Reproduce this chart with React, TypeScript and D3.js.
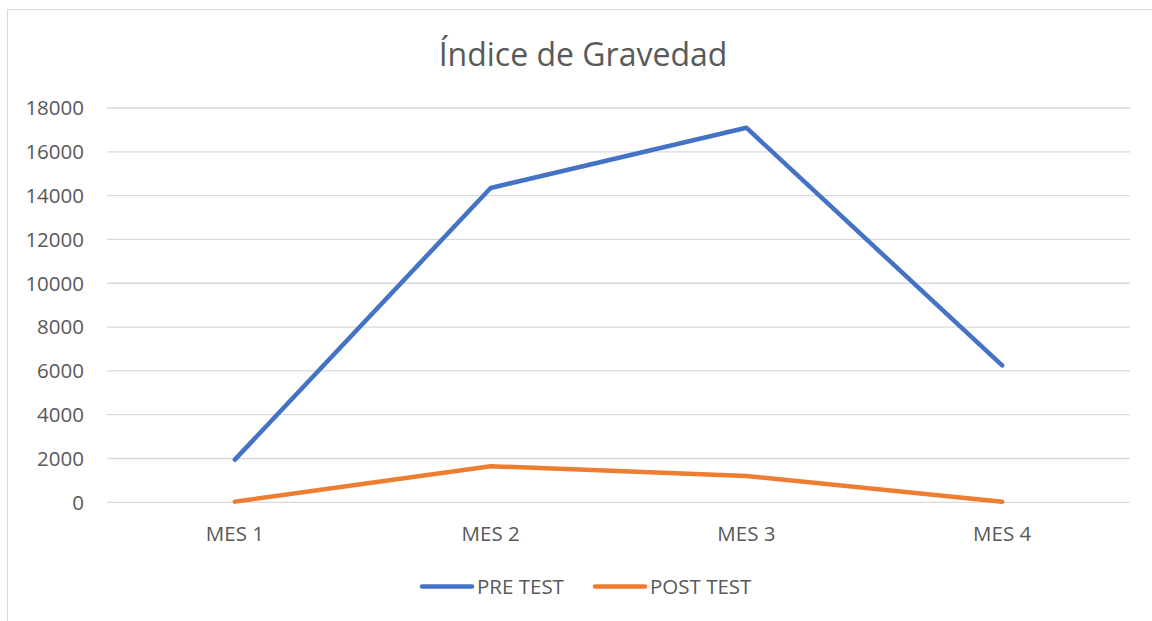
import React from "react";
import * as d3 from "d3";

const categories = ["MES 1", "MES 2", "MES 3", "MES 4"];
const preTest = [1950, 14350, 17100, 6250];
const postTest = [30, 1650, 1200, 20];
const yTicks = [0, 2000, 4000, 6000, 8000, 10000, 12000, 14000, 16000, 18000];
const seriesNames = ["PRE TEST", "POST TEST"];
const seriesColors = ["#4472C4", "#ED7D31"];

const W = 1152;
const H = 621;
const FONT = "'Open Sans', 'Liberation Sans', sans-serif";
const TEXT = "#595959";

export default function App() {
  const x = d3.scaleBand<string>().domain(categories).range([107, 1130]);
  const y = d3.scaleLinear().domain([0, 18000]).range([502.3, 108]);
  const cx = (c: string) => (x(c) as number) + x.bandwidth() / 2;
  const line = d3
    .line<number>()
    .x((_, i) => cx(categories[i]))
    .y((d) => y(d));
  const series = [preTest, postTest];
  const legendX = [420, 593];

  return (
    <svg
      width={W}
      height={H}
      style={{ position: "absolute", left: 0, top: 0, background: "#fff" }}
    >
      <rect x={7.5} y={9.5} width={1160} height={620} fill="#fff" stroke="#D9D9D9" strokeWidth={1} />
      <text x={583} y={66} textAnchor="middle" fontFamily={FONT} fontSize={32} fill={TEXT}>
        Índice de Gravedad
      </text>
      {yTicks.map((t) => (
        <g key={t}>
          <line x1={107} x2={1130} y1={y(t)} y2={y(t)} stroke="#D9D9D9" strokeWidth={1.3} />
          <text
            x={84}
            y={y(t)}
            dy="0.36em"
            textAnchor="end"
            fontFamily={FONT}
            fontSize={20.5}
            fill={TEXT}
          >
            {t}
          </text>
        </g>
      ))}
      {categories.map((c) => (
        <text key={c} x={cx(c)} y={541} textAnchor="middle" fontFamily={FONT} fontSize={20.5} fill={TEXT}>
          {c}
        </text>
      ))}
      {series.map((s, i) => (
        <path
          key={i}
          d={line(s) as string}
          fill="none"
          stroke={seriesColors[i]}
          strokeWidth={4.5}
          strokeLinecap="round"
          strokeLinejoin="round"
        />
      ))}
      {seriesNames.map((n, i) => (
        <g key={n}>
          <line
            x1={legendX[i] + 2}
            x2={legendX[i] + 52}
            y1={586.5}
            y2={586.5}
            stroke={seriesColors[i]}
            strokeWidth={4.5}
            strokeLinecap="round"
          />
          <text x={legendX[i] + 57} y={594} fontFamily={FONT} fontSize={20.5} fill={TEXT}>
            {n}
          </text>
        </g>
      ))}
    </svg>
  );
}
